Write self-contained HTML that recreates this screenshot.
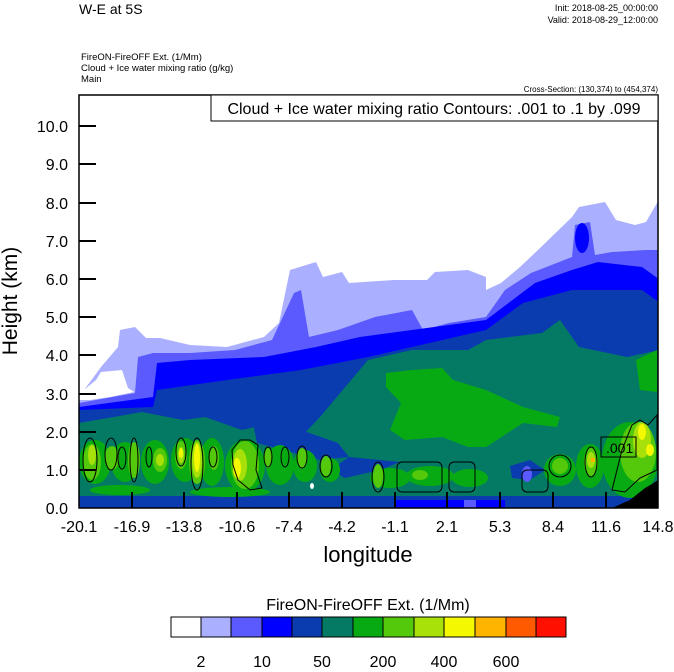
<!DOCTYPE html>
<html><head><meta charset="utf-8"><style>
body{margin:0;background:#fff;width:674px;height:667px;overflow:hidden;font-family:"Liberation Sans",sans-serif}
</style></head><body>
<svg width="674" height="667" viewBox="0 0 674 667" xmlns="http://www.w3.org/2000/svg" font-family="Liberation Sans, sans-serif">
<defs><clipPath id="pc"><rect x="79" y="95" width="579" height="413"/></clipPath></defs>
<g clip-path="url(#pc)">
<rect x="79" y="95" width="579" height="413" fill="#fff"/>
<polygon fill="#aab0ff" points="79,397 101,367 118,347 120,330 135,327 146,338 160,338 190,345 227,347 264,337 279,323 290,270 316,262 323,277 342,272 349,283 394,280 427,280 435,272 468,270 486,277 486,290 501,283 520,267 538,250 572,217 579,207 605,202 616,220 635,225 646,222 657,203 660,203 660,510 79,510"/>
<polygon fill="#fff" points="79,394 96,380 101,372 122,370 128,388 134,392 110,397 90,400 79,400"/>
<polygon fill="#5a5aff" points="79,403 135,393 138,357 153,353 190,353 235,350 272,340 294,293 301,290 309,337 338,330 375,317 412,310 423,330 449,323 486,317 505,290 531,273 572,257 575,225 590,222 595,255 612,252 646,250 660,250 660,510 79,510"/>
<polygon fill="#0000ff" points="79,407 153,397 157,363 190,360 264,357 316,347 360,337 412,330 486,320 535,283 572,270 598,262 642,267 660,280 660,510 79,510"/>
<ellipse cx="582" cy="238" rx="7" ry="15" fill="#0000ff"/>
<polygon fill="#0a3cb0" points="79,410 153,407 157,390 227,380 301,370 368,357 412,347 486,330 523,303 572,290 642,290 660,303 660,510 79,510"/>
<polygon fill="#047a64" points="79,423 142,412 183,420 205,417 242,430 272,423 301,437 320,417 368,360 412,350 468,350 486,340 542,333 560,320 579,347 627,357 660,350 660,498 79,498"/>
<polygon fill="#0a3cb0" points="253,423 272,417 301,430 338,443 349,457 320,460 283,450 257,443"/>
<polygon fill="#0a3cb0" points="330,470 349,457 380,460 400,462 380,470 345,478"/>
<polygon fill="#0a3cb0" points="510,466 530,460 545,470 530,480 512,478"/>
<rect x="79" y="496" width="579" height="12" fill="#0a3cb0"/>
<rect x="395" y="500" width="110" height="8" fill="#0000ff"/>
<rect x="464" y="500" width="12" height="8" fill="#5a5aff"/>
<ellipse cx="104" cy="474" rx="3" ry="3" fill="#5a5aff"/>
<ellipse cx="312" cy="486" rx="2" ry="3" fill="#fff"/>
<ellipse cx="527" cy="474" rx="5" ry="8" fill="#5a5aff"/>
<polygon fill="#08aa14" points="386,373 412,370 442,368 453,380 486,390 523,407 560,417 557,427 523,423 486,447 468,447 442,437 405,440 390,430 401,403 386,387"/>
<polygon fill="#08aa14" points="636,360 657,350 657,392 640,390"/>
<!-- mottled green lower band -->
<g fill="#08aa14">
<ellipse cx="95" cy="462" rx="16" ry="22"/><ellipse cx="125" cy="462" rx="14" ry="20"/><ellipse cx="155" cy="462" rx="14" ry="22"/>
<ellipse cx="185" cy="460" rx="14" ry="22"/><ellipse cx="212" cy="462" rx="12" ry="24"/><ellipse cx="245" cy="466" rx="20" ry="26"/>
<ellipse cx="280" cy="465" rx="14" ry="20"/><ellipse cx="305" cy="466" rx="12" ry="16"/><ellipse cx="330" cy="470" rx="10" ry="12"/>
<ellipse cx="390" cy="478" rx="20" ry="10"/><ellipse cx="430" cy="476" rx="24" ry="10"/><ellipse cx="470" cy="478" rx="18" ry="9"/>
<ellipse cx="560" cy="470" rx="16" ry="16"/><ellipse cx="590" cy="466" rx="14" ry="22"/><ellipse cx="630" cy="460" rx="28" ry="38"/>
<ellipse cx="120" cy="490" rx="30" ry="5"/><ellipse cx="230" cy="492" rx="40" ry="5"/>
</g>
<g fill="#54c80a">
<ellipse cx="92" cy="462" rx="9" ry="18"/><ellipse cx="112" cy="458" rx="7" ry="12"/><ellipse cx="134" cy="460" rx="6" ry="18"/>
<ellipse cx="160" cy="460" rx="7" ry="12"/><ellipse cx="181" cy="455" rx="6" ry="14"/><ellipse cx="197" cy="462" rx="8" ry="22"/>
<ellipse cx="214" cy="458" rx="5" ry="12"/><ellipse cx="245" cy="465" rx="14" ry="24"/><ellipse cx="268" cy="458" rx="4" ry="10"/>
<ellipse cx="302" cy="458" rx="5" ry="10"/><ellipse cx="326" cy="466" rx="5" ry="10"/><ellipse cx="378" cy="476" rx="5" ry="12"/>
<ellipse cx="420" cy="475" rx="8" ry="5"/><ellipse cx="560" cy="466" rx="8" ry="8"/><ellipse cx="591" cy="462" rx="7" ry="14"/><ellipse cx="638" cy="452" rx="18" ry="30"/>
</g>
<g fill="#a8e10a">
<ellipse cx="92" cy="455" rx="4" ry="10"/><ellipse cx="197" cy="460" rx="5" ry="18"/><ellipse cx="240" cy="465" rx="7" ry="16"/>
<ellipse cx="181" cy="455" rx="3" ry="8"/><ellipse cx="160" cy="460" rx="4" ry="6"/><ellipse cx="591" cy="460" rx="4" ry="8"/><ellipse cx="642" cy="440" rx="9" ry="18"/>
</g>
<g fill="#f4f800">
<ellipse cx="197" cy="458" rx="3" ry="14"/><ellipse cx="237" cy="468" rx="4" ry="10"/><ellipse cx="181" cy="453" rx="2" ry="5"/><ellipse cx="642" cy="432" rx="4" ry="8"/><ellipse cx="650" cy="450" rx="4" ry="6"/>
</g>
<rect x="591" y="458" width="4" height="4" fill="#ffb400"/>
<polygon fill="#000" points="612,508 630,500 645,488 652,484 658,480 658,508"/>
<g fill="none" stroke="#000" stroke-width="1">
<ellipse cx="90" cy="460" rx="7" ry="22"/><ellipse cx="111" cy="454" rx="6" ry="16"/><ellipse cx="122" cy="458" rx="4" ry="11"/>
<ellipse cx="134" cy="460" rx="4" ry="22"/><ellipse cx="149" cy="457" rx="3" ry="10"/><ellipse cx="181" cy="452" rx="5" ry="14"/>
<ellipse cx="197" cy="464" rx="6" ry="26"/><ellipse cx="213" cy="457" rx="4" ry="10"/><path d="M232,450 L240,440 L250,440 L258,445 L256,470 L262,488 L250,490 L238,480 L233,465 Z"/>
<ellipse cx="268" cy="457" rx="4" ry="10"/><ellipse cx="285" cy="457" rx="4" ry="10"/><ellipse cx="302" cy="457" rx="5" ry="11"/>
<ellipse cx="326" cy="466" rx="6" ry="11"/><ellipse cx="378" cy="477" rx="6" ry="15"/><rect x="397" y="462" width="45" height="30" rx="5"/>
<rect x="449" y="462" width="26" height="30" rx="5"/><rect x="522" y="470" width="26" height="22" rx="5"/><ellipse cx="560" cy="466" rx="11" ry="11"/>
<ellipse cx="591" cy="462" rx="6" ry="15"/><path d="M612,490 L622,450 L632,425 L640,420 L648,425 L657,415 L657,470 L640,478 L625,492 Z"/>
</g>
<rect x="601" y="437" width="35" height="20" fill="none" stroke="#000" stroke-width="1"/>
<text x="606" y="453" font-size="14" fill="#000">.001</text>
</g>
<rect x="79" y="95" width="579" height="413" fill="none" stroke="#000" stroke-width="1.5"/>
<g stroke="#000" stroke-width="2">
<line x1="79" y1="470" x2="96" y2="470"/><line x1="79" y1="432" x2="96" y2="432"/><line x1="79" y1="394" x2="96" y2="394"/>
<line x1="79" y1="355" x2="96" y2="355"/><line x1="79" y1="317" x2="96" y2="317"/><line x1="79" y1="279" x2="96" y2="279"/>
<line x1="79" y1="241" x2="96" y2="241"/><line x1="79" y1="203" x2="96" y2="203"/><line x1="79" y1="164" x2="96" y2="164"/><line x1="79" y1="126" x2="96" y2="126"/>
<line x1="132" y1="508" x2="132" y2="492"/><line x1="184" y1="508" x2="184" y2="492"/><line x1="237" y1="508" x2="237" y2="492"/>
<line x1="289" y1="508" x2="289" y2="492"/><line x1="342" y1="508" x2="342" y2="492"/><line x1="395" y1="508" x2="395" y2="492"/>
<line x1="447" y1="508" x2="447" y2="492"/><line x1="500" y1="508" x2="500" y2="492"/><line x1="553" y1="508" x2="553" y2="492"/><line x1="606" y1="508" x2="606" y2="492"/>
</g>
<rect x="211" y="95" width="447" height="26" fill="#fff" stroke="#000" stroke-width="1"/>
<text x="434" y="114" font-size="16" text-anchor="middle">Cloud + Ice water mixing ratio Contours: .001 to .1 by .099</text>
<text x="79" y="14" font-size="14">W-E at 5S</text>
<text x="658" y="11" font-size="9" text-anchor="end">Init: 2018-08-25_00:00:00</text>
<text x="658" y="23" font-size="9" text-anchor="end">Valid: 2018-08-29_12:00:00</text>
<text x="81" y="60" font-size="9.5">FireON-FireOFF Ext.   (1/Mm)</text>
<text x="81" y="71" font-size="9.5">Cloud + Ice water mixing ratio   (g/kg)</text>
<text x="81" y="82" font-size="9.5">Main</text>
<text x="658" y="92" font-size="8" text-anchor="end">Cross-Section: (130,374) to (454,374)</text>
<g font-size="16" text-anchor="end">
<text x="68" y="514">0.0</text><text x="68" y="476">1.0</text><text x="68" y="438">2.0</text><text x="68" y="400">3.0</text>
<text x="68" y="361">4.0</text><text x="68" y="323">5.0</text><text x="68" y="285">6.0</text><text x="68" y="247">7.0</text>
<text x="68" y="209">8.0</text><text x="68" y="170">9.0</text><text x="68" y="132">10.0</text>
</g>
<text transform="translate(17,301) rotate(-90)" font-size="21" text-anchor="middle">Height (km)</text>
<g font-size="16" text-anchor="middle">
<text x="79" y="532">-20.1</text><text x="132" y="532">-16.9</text><text x="184" y="532">-13.8</text><text x="237" y="532">-10.6</text>
<text x="289" y="532">-7.4</text><text x="342" y="532">-4.2</text><text x="395" y="532">-1.1</text><text x="447" y="532">2.1</text>
<text x="500" y="532">5.3</text><text x="553" y="532">8.4</text><text x="606" y="532">11.6</text><text x="658" y="532">14.8</text>
</g>
<text x="368" y="562" font-size="22" text-anchor="middle">longitude</text>
<text x="368" y="610" font-size="16" text-anchor="middle">FireON-FireOFF Ext.  (1/Mm)</text>
<g stroke="#000" stroke-width="1">
<rect x="171" y="617" width="30" height="20" fill="#fff"/><rect x="201" y="617" width="30" height="20" fill="#aab0ff"/>
<rect x="231" y="617" width="31" height="20" fill="#5a5aff"/><rect x="262" y="617" width="30" height="20" fill="#0000ff"/>
<rect x="292" y="617" width="30" height="20" fill="#0a3cb0"/><rect x="322" y="617" width="31" height="20" fill="#047a64"/>
<rect x="353" y="617" width="30" height="20" fill="#08aa14"/><rect x="383" y="617" width="31" height="20" fill="#54c80a"/>
<rect x="414" y="617" width="30" height="20" fill="#a8e10a"/><rect x="444" y="617" width="31" height="20" fill="#f4f800"/>
<rect x="475" y="617" width="31" height="20" fill="#ffb400"/><rect x="506" y="617" width="30" height="20" fill="#ff5a00"/>
<rect x="536" y="617" width="30" height="20" fill="#ff1000"/>
</g>
<g font-size="16" text-anchor="middle">
<text x="201" y="667">2</text><text x="262" y="667">10</text><text x="322" y="667">50</text>
<text x="383" y="667">200</text><text x="444" y="667">400</text><text x="506" y="667">600</text>
</g>
</svg>
</body></html>
